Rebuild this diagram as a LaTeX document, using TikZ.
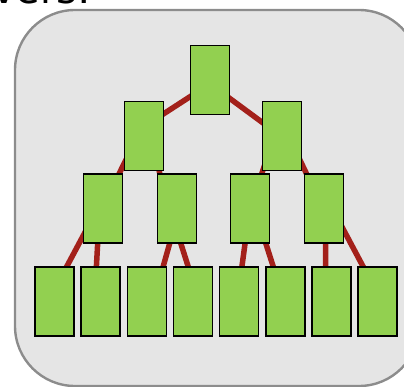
\documentclass[tikz,border=0pt]{standalone}
\usepackage{fontspec}
\setmainfont{DejaVu Sans}
\usetikzlibrary{calc,backgrounds}
\definecolor{leafgreen}{RGB}{146,208,80}
\definecolor{linkred}{RGB}{163,32,26}
\definecolor{panelgray}{RGB}{229,229,229}
\definecolor{panelline}{RGB}{140,140,140}
\tikzset{
  block/.style={draw=black,line width=1.6pt,fill=leafgreen,minimum width=39pt,minimum height=69pt,inner sep=0pt},
  link/.style={linkred,line width=5.5pt}
}
\begin{document}
\begin{tikzpicture}[x=1pt,y=-1pt]
    \useasboundingbox (0,0) rectangle (404,387);
    \node[anchor=base west,inner sep=0pt,font=\fontsize{40}{40}\selectfont] (title) at (-8,4) {vers:};
    % tree levels
    \node[block] (R) at (210,80) {};
    \node[block] (A) at (144,136) {}; \node[block] (B) at (282,136) {};
    \node[block] (C1) at (103,208.5) {}; \node[block] (C2) at (177,208.5) {};
    \node[block] (C3) at (250,208.5) {}; \node[block] (C4) at (324,208.5) {};
    \foreach \i in {1,...,8}
        \node[block] (D\i) at ({54.5+46.17*(\i-1)},301.5) {};
    \begin{scope}[on background layer]
        \draw[panelline,fill=panelgray,line width=2.4pt,rounded corners=60pt] (15,10) rectangle (419,386);
        \foreach \p/\c/\a/\b in {R/A/5.8/-14.6, R/B/-5.2/-1.3, A/C1/-6.4/-0.9, A/C2/8/-10,
            B/C3/-7.5/0, B/C4/6.4/-0.8, C1/D1/-5.3/-6.4, C1/D2/-3.4/-6.2, C2/D3/2.5/6.5,
            C2/D4/-7.3/6.3, C3/D5/-0.2/-2, C3/D6/4.7/-1, C4/D7/1.7/-5.8, C4/D8/8.2/4}
            \draw[link] ($(\p)+(\a,0)$) -- ($(\c)+(\b,0)$);
    \end{scope}
\end{tikzpicture}
\end{document}
